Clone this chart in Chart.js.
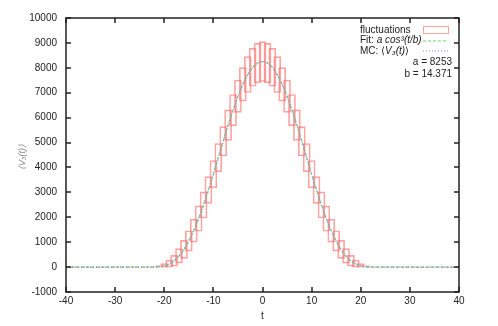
<!DOCTYPE html>
<html lang="en">
<head>
    <meta charset="UTF-8">
    <title>V3 fluctuations</title>
    <script src="https://cdn.jsdelivr.net/npm/chart.js"></script>
    <style>
        body {
            margin: 0;
            background: #fff;
        }
        #wrap {
            width: 498px;
            height: 326px;
        }
    </style>
</head>
<body>
    <div id="wrap">
        <canvas id="chart" width="498" height="326"></canvas>
    </div>

    <script>
        // time steps
        const times = [
            -40, -39, -38, -37, -36, -35, -34, -33, -32, -31, -30, -29, -28, -27, -26, -25, -24, -23,
            -22, -21, -20, -19, -18, -17, -16, -15, -14, -13, -12, -11, -10, -9, -8, -7, -6, -5, -4, -3, -2, -1,
            0,
            1, 2, 3, 4, 5, 6, 7, 8, 9, 10, 11, 12, 13, 14, 15, 16, 17, 18, 19, 20, 21, 22,
            23, 24, 25, 26, 27, 28, 29, 30, 31, 32, 33, 34, 35, 36, 37, 38, 39, 40
        ];

        // fit a cos^3(t/b)
        const fitValues = [
            0, 0, 0, 0, 0, 0, 0, 0, 0, 0, 0, 0, 0, 0, 0, 0, 0, 0,
            1, 11, 47, 124, 253, 446, 710, 1049, 1463, 1947, 2495, 3095, 3732, 4391, 5051, 5695, 6303, 6857, 7336, 7727, 8016, 8193,
            8253,
            8193, 8016, 7727, 7336, 6857, 6303, 5695, 5051, 4391, 3732, 3095, 2495, 1947, 1463, 1049, 710, 446, 253, 124, 47, 11, 1,
            0, 0, 0, 0, 0, 0, 0, 0, 0, 0, 0, 0, 0, 0, 0, 0, 0, 0
        ];

        // MC <V3(t)>
        const mcValues = [
            0, 0, 0, 0, 0, 0, 0, 0, 0, 0, 0, 0, 0, 0, 0, 0, 0, 0,
            2, 14, 52, 130, 262, 455, 722, 1060, 1475, 1955, 2500, 3100, 3735, 4390, 5045, 5690, 6295, 6850, 7330, 7720, 8010, 8185,
            8245,
            8190, 8015, 7730, 7340, 6860, 6305, 5700, 5055, 4395, 3735, 3095, 2492, 1942, 1458, 1045, 706, 442, 250, 122, 46, 12, 2,
            0, 0, 0, 0, 0, 0, 0, 0, 0, 0, 0, 0, 0, 0, 0, 0, 0, 0
        ];

        // fluctuation boxes: lower and upper edge
        const boxLow = [
            -15, -15, -15, -15, -15, -15, -15, -15, -15, -15, -15, -15, -15, -15, -15, -15, -15, -15,
            0, 0, 0, 0, 40, 160, 350, 640, 1000, 1440, 1970, 2560, 3180, 3820, 4460, 5090, 5670, 6210, 6660, 7010, 7260, 7400,
            7450,
            7400, 7260, 7010, 6660, 6210, 5670, 5090, 4460, 3820, 3180, 2560, 1970, 1440, 1000, 640, 350, 160, 40, 0, 0, 0, 0,
            -15, -15, -15, -15, -15, -15, -15, -15, -15, -15, -15, -15, -15, -15, -15, -15, -15, -15
        ];
        const boxHigh = [
            15, 15, 15, 15, 15, 15, 15, 15, 15, 15, 15, 15, 15, 15, 15, 15, 15, 15,
            20, 60, 140, 280, 470, 740, 1070, 1460, 1920, 2460, 3020, 3630, 4280, 4960, 5640, 6310, 6930, 7510, 8010, 8450, 8780, 8980,
            9050,
            8980, 8780, 8450, 8010, 7510, 6930, 6310, 5640, 4960, 4280, 3630, 3020, 2460, 1920, 1460, 1070, 740, 470, 280, 140, 60, 20,
            15, 15, 15, 15, 15, 15, 15, 15, 15, 15, 15, 15, 15, 15, 15, 15, 15, 15
        ];

        const xTicks = [-40, -30, -20, -10, 0, 10, 20, 30, 40];
        const yTicks = [-1000, 0, 1000, 2000, 3000, 4000, 5000, 6000, 7000, 8000, 9000, 10000];
        const fitParams = ['a = 8253', 'b = 14.371'];

        const FONT = '"Liberation Sans", Arial, sans-serif';
        const RED = 'rgba(255, 100, 100, 0.6)';
        const GREEN = 'rgb(110, 215, 110)';
        const BLUE = 'rgb(135, 135, 255)';
        const INK = '#222222';

        // border box, inward ticks, titles and key
        const decorations = {
            id: 'decorations',
            afterDraw(chart) {
                const { ctx, chartArea: a, scales: { x, y } } = chart;
                const L = Math.round(a.left), R = Math.round(a.right);
                const T = Math.round(a.top), B = Math.round(a.bottom);
                ctx.save();
                ctx.setLineDash([]);
                ctx.globalAlpha = 1;
                ctx.strokeStyle = INK;
                ctx.lineWidth = 1.5;
                ctx.strokeRect(L, T, R - L, B - T);

                ctx.beginPath();
                yTicks.forEach(v => {
                    const py = Math.round(y.getPixelForValue(v));
                    ctx.moveTo(L, py); ctx.lineTo(L + 5, py);
                    ctx.moveTo(R, py); ctx.lineTo(R - 5, py);
                });
                xTicks.forEach(v => {
                    const px = Math.round(x.getPixelForValue(v));
                    ctx.moveTo(px, B); ctx.lineTo(px, B - 5);
                    ctx.moveTo(px, T); ctx.lineTo(px, T + 5);
                });
                ctx.stroke();

                // axis titles
                ctx.fillStyle = INK;
                ctx.font = '10px ' + FONT;
                ctx.textAlign = 'center';
                ctx.textBaseline = 'middle';
                ctx.fillText('t', (a.left + a.right) / 2, 316);

                ctx.save();
                ctx.translate(22, 157);
                ctx.rotate(-Math.PI / 2);
                ctx.fillStyle = '#888';
                ctx.font = 'italic 9px ' + FONT;
                ctx.fillText('\u27E8V\u2083(t)\u27E9', 0, 0);
                ctx.restore();

                // key
                const kx = 360, sx0 = 423, sx1 = 448;
                const rows = [30, 40.5, 51];
                const drawParts = (parts, yy) => {
                    let cx = kx;
                    parts.forEach(([txt, italic]) => {
                        ctx.font = (italic ? 'italic ' : '') + '10px ' + FONT;
                        ctx.fillText(txt, cx, yy);
                        cx += ctx.measureText(txt).width;
                    });
                };
                ctx.textAlign = 'left';
                ctx.fillStyle = INK;
                drawParts([['fluctuations', false]], rows[0]);
                drawParts([['Fit: ', false], ['a cos\u00B3(t/b)', true]], rows[1]);
                drawParts([['MC: \u27E8', false], ['V\u2083(t)', true], ['\u27E9', false]], rows[2]);

                ctx.lineWidth = 1;
                ctx.strokeStyle = RED;
                ctx.strokeRect(sx0 + 0.5, rows[0] - 3.5, sx1 - sx0, 7);

                ctx.lineWidth = 1.2;
                ctx.setLineDash([3, 2]);
                ctx.strokeStyle = GREEN;
                ctx.beginPath();
                ctx.moveTo(sx0, 41); ctx.lineTo(sx1, 41);
                ctx.stroke();

                ctx.setLineDash([1, 2]);
                ctx.strokeStyle = BLUE;
                ctx.beginPath();
                ctx.moveTo(sx0, 51); ctx.lineTo(sx1, 51);
                ctx.stroke();
                ctx.setLineDash([]);

                ctx.textAlign = 'right';
                ctx.font = '10px ' + FONT;
                ctx.fillText(fitParams[0], 452, 62);
                ctx.fillText(fitParams[1], 452, 74);
                ctx.restore();
            }
        };

        new Chart(document.getElementById('chart').getContext('2d'), {
            type: 'bar',
            data: {
                datasets: [
                    {
                        type: 'line',
                        label: 'MC',
                        data: times.map((t, i) => ({ x: t, y: mcValues[i] })),
                        borderColor: BLUE,
                        borderWidth: 1.2,
                        borderDash: [1, 2],
                        pointRadius: 0,
                        cubicInterpolationMode: 'monotone',
                        order: 1
                    },
                    {
                        type: 'line',
                        label: 'Fit',
                        data: times.map((t, i) => ({ x: t, y: fitValues[i] })),
                        borderColor: GREEN,
                        borderWidth: 1.2,
                        borderDash: [3, 2],
                        pointRadius: 0,
                        cubicInterpolationMode: 'monotone',
                        order: 2
                    },
                    {
                        type: 'bar',
                        label: 'fluctuations',
                        data: times.map((t, i) => ({ x: t, y: [boxLow[i], boxHigh[i]] })),
                        backgroundColor: 'rgba(0,0,0,0)',
                        borderColor: RED,
                        borderWidth: 1,
                        borderSkipped: false,
                        barThickness: 7,
                        order: 3
                    }
                ]
            },
            options: {
                responsive: false,
                animation: false,
                layout: { padding: { top: 18, right: 39, left: 0, bottom: 0 } },
                plugins: {
                    legend: { display: false },
                    tooltip: { enabled: false }
                },
                scales: {
                    x: {
                        type: 'linear',
                        min: -40,
                        max: 40,
                        offset: false,
                        grid: { display: false, drawTicks: false },
                        border: { display: false },
                        ticks: {
                            stepSize: 10,
                            padding: 3,
                            color: INK,
                            font: { family: FONT, size: 10 },
                            maxRotation: 0,
                            callback: v => String(v)
                        },
                        afterFit: s => { s.height = 34; }
                    },
                    y: {
                        min: -1000,
                        max: 10000,
                        grid: { display: false, drawTicks: false },
                        border: { display: false },
                        ticks: {
                            stepSize: 1000,
                            padding: 9,
                            color: INK,
                            font: { family: FONT, size: 10 },
                            callback: v => String(v)
                        },
                        afterFit: s => { s.width = 66; }
                    }
                }
            },
            plugins: [decorations]
        });
    </script>
</body>
</html>
